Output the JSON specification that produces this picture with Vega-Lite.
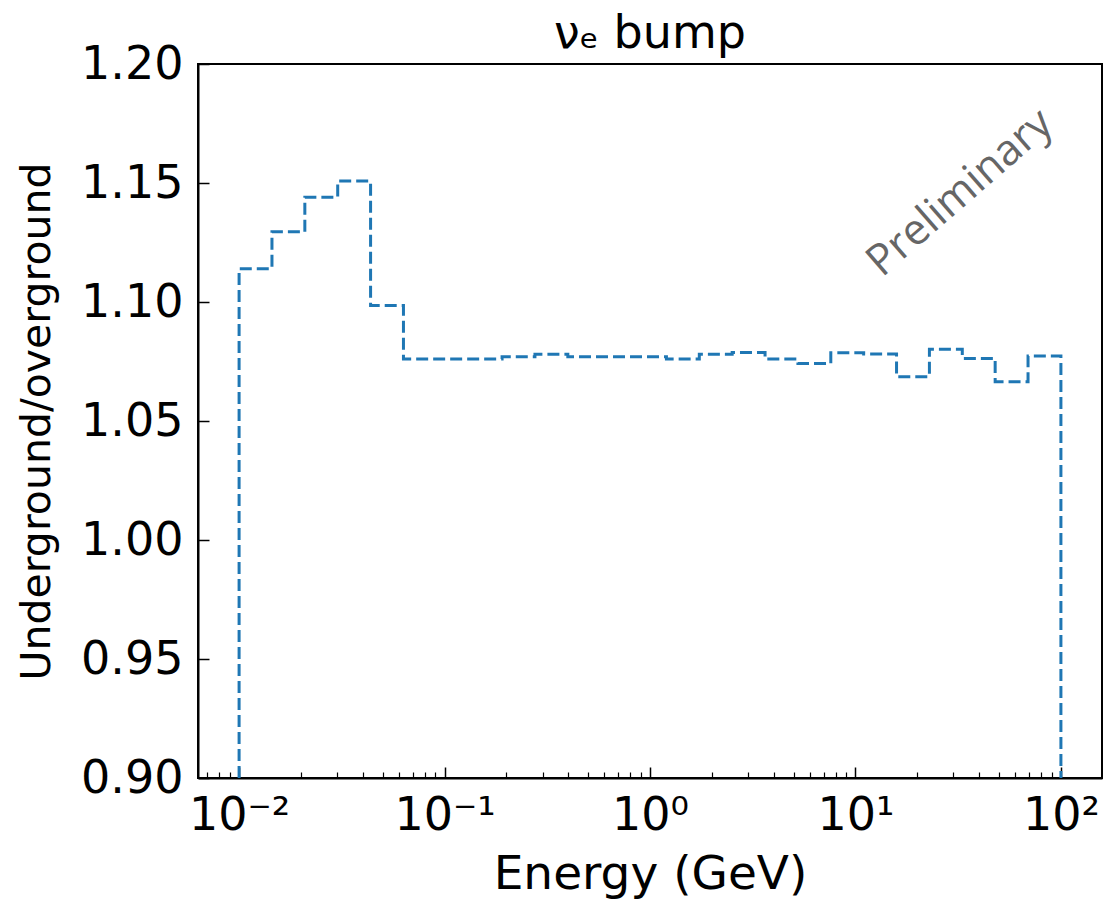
{
  "$schema": "https://vega.github.io/schema/vega-lite/v6.json",
  "width": 904,
  "height": 714,
  "autosize": {"type": "none"},
  "padding": {"left": 198, "top": 64, "right": 14, "bottom": 125},
  "background": "white",
  "config": {
    "view": {"stroke": "black", "strokeWidth": 2},
    "font": "DejaVu Sans"
  },
  "title": {
    "text": "νₑ bump",
    "font": "DejaVu Sans",
    "fontSize": 46,
    "fontWeight": "normal",
    "color": "black",
    "anchor": "middle",
    "offset": -17
  },
  "datasets": {
    "hist": [
      {"i": 0, "E": 0.01, "ratio": 0.9},
      {"i": 1, "E": 0.01, "ratio": 1.114},
      {"i": 2, "E": 0.014454, "ratio": 1.1295},
      {"i": 3, "E": 0.020893, "ratio": 1.144},
      {"i": 4, "E": 0.0302, "ratio": 1.1508},
      {"i": 5, "E": 0.043652, "ratio": 1.0985},
      {"i": 6, "E": 0.063096, "ratio": 1.076},
      {"i": 7, "E": 0.091201, "ratio": 1.076},
      {"i": 8, "E": 0.131826, "ratio": 1.076},
      {"i": 9, "E": 0.190546, "ratio": 1.077},
      {"i": 10, "E": 0.275423, "ratio": 1.078},
      {"i": 11, "E": 0.398107, "ratio": 1.077},
      {"i": 12, "E": 0.57544, "ratio": 1.077},
      {"i": 13, "E": 0.831764, "ratio": 1.077},
      {"i": 14, "E": 1.202264, "ratio": 1.076},
      {"i": 15, "E": 1.737801, "ratio": 1.078},
      {"i": 16, "E": 2.511886, "ratio": 1.0788},
      {"i": 17, "E": 3.630781, "ratio": 1.076},
      {"i": 18, "E": 5.248075, "ratio": 1.0742},
      {"i": 19, "E": 7.585776, "ratio": 1.0787},
      {"i": 20, "E": 10.96478, "ratio": 1.0782},
      {"i": 21, "E": 15.84893, "ratio": 1.0686},
      {"i": 22, "E": 22.90868, "ratio": 1.0801},
      {"i": 23, "E": 33.11311, "ratio": 1.0763},
      {"i": 24, "E": 47.86301, "ratio": 1.0665},
      {"i": 25, "E": 69.1831, "ratio": 1.0773},
      {"i": 26, "E": 100, "ratio": 1.0773},
      {"i": 27, "E": 100, "ratio": 0.9}
    ],
    "note": [
      {"E": 32.3, "ratio": 1.1458, "label": "Preliminary"}
    ]
  },
  "layer": [
    {
      "data": {"name": "hist"},
      "mark": {
        "type": "line",
        "interpolate": "step-after",
        "color": "#1f77b4",
        "strokeWidth": 3,
        "strokeDash": [12, 5]
      },
      "encoding": {
        "x": {
          "field": "E",
          "type": "quantitative",
          "scale": {"type": "log", "domain": [0.0063096, 158.489], "nice": false},
          "axis": {
            "orient": "bottom",
            "title": "Energy (GeV)",
            "titleFont": "DejaVu Sans",
            "titleFontSize": 47,
            "titleFontWeight": "normal",
            "titleColor": "black",
            "titlePadding": 13,
            "values": [0.01, 0.1, 1, 10, 100],
            "labelExpr": "datum.value < 0.05 ? '10⁻²' : datum.value < 0.5 ? '10⁻¹' : datum.value < 5 ? '10⁰' : datum.value < 50 ? '10¹' : '10²'",
            "labelFont": "DejaVu Sans",
            "labelFontSize": 46,
            "labelColor": "black",
            "labelPadding": 26,
            "labelFlush": false,
            "labelOverlap": false,
            "tickSize": -11,
            "tickWidth": 1.5,
            "tickColor": "black",
            "domainColor": "black",
            "domainWidth": 2,
            "grid": false
          }
        },
        "y": {
          "field": "ratio",
          "type": "quantitative",
          "scale": {"domain": [0.9, 1.2], "nice": false, "zero": false},
          "axis": {
            "title": "Underground/overground",
            "titleFont": "DejaVu Sans",
            "titleFontSize": 41,
            "titleFontWeight": "normal",
            "titleColor": "black",
            "titlePadding": 22,
            "values": [0.9, 0.95, 1.0, 1.05, 1.1, 1.15, 1.2],
            "format": ".2f",
            "labelFont": "DejaVu Sans",
            "labelFontSize": 46,
            "labelColor": "black",
            "labelPadding": 26,
            "labelFlush": false,
            "labelOverlap": false,
            "tickSize": -11,
            "tickWidth": 1.5,
            "tickColor": "black",
            "domainColor": "black",
            "domainWidth": 2,
            "grid": false
          }
        },
        "order": {"field": "i", "type": "quantitative"}
      }
    },
    {
      "data": {"name": "note"},
      "mark": {
        "type": "text",
        "font": "Open Sans",
        "fontSize": 43,
        "color": "#666666",
        "angle": -41,
        "align": "center",
        "baseline": "middle"
      },
      "encoding": {
        "x": {
          "field": "E",
          "type": "quantitative",
          "scale": {"type": "log", "domain": [0.0063096, 158.489], "nice": false},
          "axis": {
            "orient": "bottom",
            "title": null,
            "labels": false,
            "domain": false,
            "grid": false,
            "values": [0.007, 0.008, 0.009, 0.02, 0.03, 0.04, 0.05, 0.06, 0.07, 0.08, 0.09, 0.2, 0.3, 0.4, 0.5, 0.6, 0.7, 0.8, 0.9, 2, 3, 4, 5, 6, 7, 8, 9, 20, 30, 40, 50, 60, 70, 80, 90],
            "tickSize": -6,
            "tickWidth": 1.2,
            "tickColor": "black"
          }
        },
        "y": {"field": "ratio", "type": "quantitative"},
        "text": {"field": "label"}
      }
    }
  ],
  "resolve": {"axis": {"x": "independent"}}
}
